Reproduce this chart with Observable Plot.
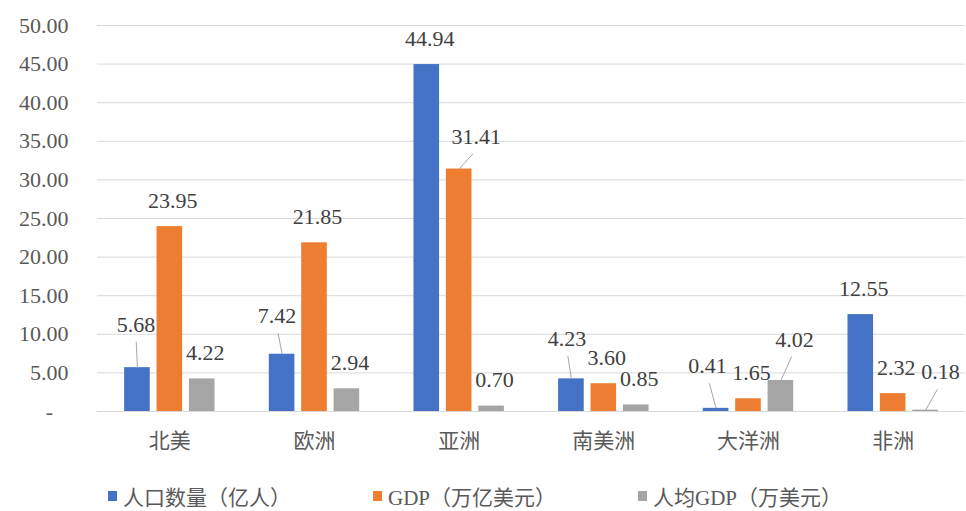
<!DOCTYPE html>
<html>
<head>
<meta charset="utf-8">
<script src="https://cdn.jsdelivr.net/npm/d3@7"></script>
<script src="https://cdn.jsdelivr.net/npm/@observablehq/plot@0.6"></script>
<style>
  html, body { margin: 0; padding: 0; background: #fff; }
  #legend { display: flex; margin-top: 21px; height: 30px; align-items: center; padding-left: 108px;
    font-family: 'Liberation Serif', 'Noto Sans CJK SC', serif; font-size: 21px; color: #595959; }
  #legend .item { width: 265px; display: flex; align-items: center; }
  #legend .sw { width: 9px; height: 10px; margin-right: 6px; }
  #chart svg text { font-family: 'Liberation Serif', 'Noto Sans CJK SC', serif; }
  #chart svg text.cat { font-family: 'Noto Sans CJK SC', sans-serif; }
</style>
</head>
<body>
<div id="chart"></div>
<div id="legend"></div>
<script>
// ---- data ----
const continents = ["北美", "欧洲", "亚洲", "南美洲", "大洋洲", "非洲"];
const seriesNames = ["人口数量（亿人）", "GDP（万亿美元）", "人均GDP（万美元）"];
const population = [5.68, 7.42, 44.94, 4.23, 0.41, 12.55];
const gdp = [23.95, 21.85, 31.41, 3.60, 1.65, 2.32];
const gdpPerCapita = [4.22, 2.94, 0.70, 0.85, 4.02, 0.18];
const yTicks = [0, 5, 10, 15, 20, 25, 30, 35, 40, 45, 50];

// ---- style / layout ----
const colors = ["#4472C4", "#ED7D31", "#A5A5A5"];
const W = 966, H = 460, mL = 97, mR = 1, mT = 25, mB = 49;
const pxX = (W - mL - mR) / continents.length;   // px per x unit
const pxY = (H - mT - mB) / 50;                   // px per y unit
const slot = 32.4 / pxX, barHalf = 12.8 / pxX;
// manually placed labels (offsets in px from bar top centre); default below
const defaultNudge = [3, -26];
const labelNudges = {
  "北美|0": [-1.5, -43], "欧洲|0": [-5, -38], "亚洲|1": [17, -32],
  "南美洲|0": [-4.5, -40], "大洋洲|0": [-8.5, -42], "大洋洲|2": [13.5, -41], "非洲|2": [15, -38]
};

const seriesValues = [population, gdp, gdpPerCapita];
const rows = continents.flatMap((c, i) => seriesNames.map((s, j) => {
  const v = seriesValues[j][i];
  const cx = i + (j - 1) * slot;
  const key = c + "|" + j;
  const n = labelNudges[key] || defaultNudge;
  const lx = cx + n[0] / pxX, ly = v - n[1] / pxY;
  return {continent: c, series: s, j, value: v, cx, lx, ly, leader: key in labelNudges,
          ex: lx + (cx - lx) * 0.2, ey: ly - 17 / pxY};
}));

const chart = Plot.plot({
  width: W, height: H, marginLeft: mL, marginRight: mR, marginTop: mT, marginBottom: mB,
  style: {fontSize: "22px", color: "#595959", background: "#fff"},
  x: {type: "linear", domain: [-0.5, continents.length - 0.5], axis: null},
  y: {domain: [0, 50], ticks: 10, tickSize: 0, tickPadding: 29, label: null,
      tickFormat: d => d === 0 ? "-\u2002\u2009" : d.toFixed(2)},
  marks: [
    Plot.ruleY(yTicks, {stroke: "#d9d9d9", strokeWidth: 1}),
    Plot.rectY(rows, {x1: d => d.cx - barHalf, x2: d => d.cx + barHalf, y1: 0, y2: "value",
      fill: d => colors[d.j]}),
    Plot.link(rows.filter(d => d.leader), {x1: "cx", y1: "value", x2: "ex", y2: "ey",
      stroke: "#a6a6a6", strokeWidth: 1}),
    Plot.text(rows, {x: "lx", y: "ly", text: d => d.value.toFixed(2), fill: "#404040", fontSize: 22}),
    Plot.text(continents, {x: (d, i) => i, y: () => 0, text: d => d, dy: 30, fill: "#595959",
      fontSize: 21})
  ]
});
// category labels use the CJK sans face
chart.querySelectorAll("g[aria-label='text']").forEach((g, k, all) => {
  if (k === all.length - 1) g.querySelectorAll("text").forEach(t => t.classList.add("cat"));
});
document.getElementById("chart").appendChild(chart);

const legend = document.getElementById("legend");
seriesNames.forEach((s, j) => {
  const it = document.createElement("div");
  it.className = "item";
  it.innerHTML = `<span class="sw" style="background:${colors[j]}"></span><span>${s}</span>`;
  legend.appendChild(it);
});
</script>
</body>
</html>
